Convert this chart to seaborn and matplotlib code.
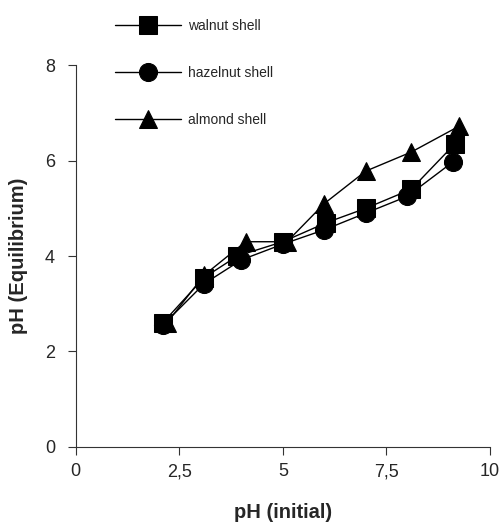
import pandas as pd
import seaborn as sns
import matplotlib.pyplot as plt

# valores
ph_walnut_x = [2.1, 3.1, 3.9, 5.0, 6.05, 7.0, 8.1, 9.15]
ph_walnut_y = [2.6, 3.55, 4.0, 4.3, 4.7, 5.0, 5.4, 6.35]
ph_hazel_x = [2.1, 3.1, 4.0, 5.0, 6.0, 7.0, 8.0, 9.1]
ph_hazel_y = [2.55, 3.42, 3.92, 4.25, 4.55, 4.9, 5.25, 5.97]
ph_almond_x = [2.2, 3.1, 4.1, 5.1, 6.0, 7.0, 8.1, 9.25]
ph_almond_y = [2.6, 3.6, 4.3, 4.3, 5.1, 5.78, 6.18, 6.72]
series = ['walnut shell', 'hazelnut shell', 'almond shell']
x_ticks = [0, 2.5, 5, 7.5, 10]
x_ticklabels = ['0', '2,5', '5', '7,5', '10']
y_ticks = [0, 2, 4, 6, 8]

df = pd.concat([
    pd.DataFrame({'x': ph_walnut_x, 'y': ph_walnut_y, 'shell': series[0]}),
    pd.DataFrame({'x': ph_hazel_x, 'y': ph_hazel_y, 'shell': series[1]}),
    pd.DataFrame({'x': ph_almond_x, 'y': ph_almond_y, 'shell': series[2]}),
])

sns.set_style('ticks')
plt.rcParams['font.family'] = ['Liberation Sans', 'DejaVu Sans']

fig = plt.figure(figsize=(5.02, 5.22), dpi=100)
ax = fig.add_axes([0.151, 0.144, 0.825, 0.731])

sns.lineplot(data=df, x='x', y='y', hue='shell', style='shell',
             palette=['black'] * 3, markers=['s', 'o', '^'], dashes=False,
             markersize=13, linewidth=1.0, markeredgecolor='black',
             sort=False, estimator=None, ax=ax, legend=True)

handles, labels = ax.get_legend_handles_labels()
ax.get_legend().remove()
fig.legend(handles, labels, loc='upper left', bbox_to_anchor=(0.205, 0.987),
           frameon=False, fontsize=10, handlelength=4.7, labelspacing=2.35,
           handletextpad=0.55, markerscale=1.0)

ax.set_xlim(0, 10)
ax.set_ylim(0, 8)
ax.set_xticks(x_ticks)
ax.set_xticklabels(x_ticklabels)
ax.set_yticks(y_ticks)
ax.tick_params(labelsize=13, length=6, width=0.8, color='#333333')
ax.tick_params(axis='x', pad=6)
ax.tick_params(axis='y', pad=9)
for s in ['left', 'bottom']:
    ax.spines[s].set_linewidth(0.8)
    ax.spines[s].set_color('#333333')
sns.despine(ax=ax)

ax.set_xlabel('pH (initial)', fontsize=14.5, fontweight='bold', labelpad=16)
ax.set_ylabel('pH (Equilibrium)', fontsize=14.5, fontweight='bold', labelpad=12)

plt.savefig('out.png', dpi=100)
